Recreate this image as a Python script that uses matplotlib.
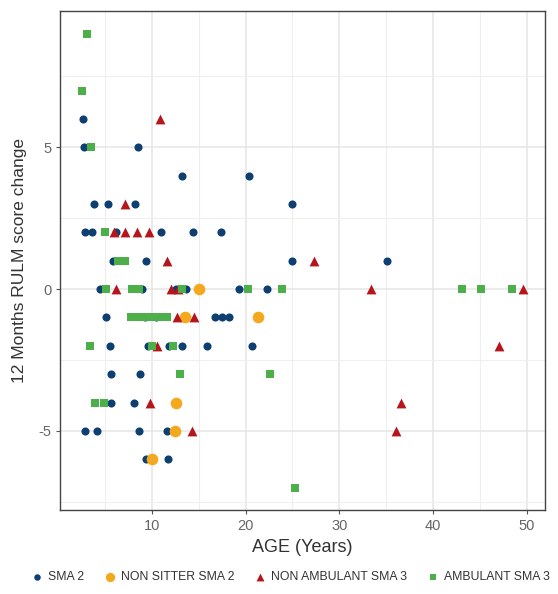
import matplotlib
matplotlib.use("Agg")
import matplotlib.pyplot as plt
from matplotlib.ticker import MultipleLocator

plt.rcParams['font.family'] = ['Liberation Sans', 'DejaVu Sans']
plt.rcParams['axes.unicode_minus'] = False

# SMA 2
sma2_age = [2.7, 2.8, 8.5, 13.2, 20.4,
            3.9, 5.3, 8.2, 25.0,
            2.9, 3.6, 6.2, 11.0, 14.4, 17.4,
            5.85, 9.4, 25.0, 35.1,
            4.5, 9.0, 12.6, 13.7, 19.3, 22.3,
            5.15, 9.3, 10.5, 16.8, 17.5, 18.2,
            5.5, 9.6, 11.8, 13.2, 15.9, 20.7,
            5.7, 8.7,
            5.7, 8.1,
            2.85, 4.2, 8.6, 11.6,
            9.4, 11.7]
sma2_chg = [6, 5, 5, 4, 4,
            3, 3, 3, 3,
            2, 2, 2, 2, 2, 2,
            1, 1, 1, 1,
            0, 0, 0, 0, 0, 0,
            -1, -1, -1, -1, -1, -1,
            -2, -2, -2, -2, -2, -2,
            -3, -3,
            -4, -4,
            -5, -5, -5, -5,
            -6, -6]

# NON SITTER SMA 2
nonsit_age = [15.0, 13.5, 21.3, 12.6, 12.5, 10.0]
nonsit_chg = [0, -1, -1, -4, -5, -6]

# NON AMBULANT SMA 3
nonamb_age = [10.85, 7.2, 6.0, 7.1, 8.45, 9.75, 11.6, 27.3,
              6.2, 12.1, 12.8, 33.4, 49.6, 12.7, 14.5,
              10.6, 47.0, 9.8, 36.6, 14.3, 36.0]
nonamb_chg = [6, 3, 2, 2, 2, 2, 1, 1,
              0, 0, 0, 0, 0, -1, -1,
              -2, -2, -4, -4, -5, -5]

# AMBULANT SMA 3
amb_age = [3.05, 2.6, 3.5, 5.0, 6.4, 7.2,
           5.1, 7.9, 8.6, 13.2, 20.3, 23.9, 43.1, 45.1, 48.4,
           7.8, 8.6, 9.4, 10.0, 10.8, 11.6,
           3.4, 10.0, 12.3, 13.0, 22.6, 4.0, 4.9, 25.3]
amb_chg = [9, 7, 5, 2, 1, 1,
           0, 0, 0, 0, 0, 0, 0, 0, 0,
           -1, -1, -1, -1, -1, -1,
           -2, -2, -2, -3, -3, -4, -4, -7]

fig = plt.figure(figsize=(5.58, 5.94), dpi=100)
ax = fig.add_axes([0.108, 0.141, 0.869, 0.840])

ax.scatter(sma2_age, sma2_chg, s=34, marker='o', color='#0d3f70', lw=0, label='SMA 2', zorder=3)
ax.scatter(nonsit_age, nonsit_chg, s=70, marker='o', color='#f4a81d', lw=0, label='NON SITTER SMA 2', zorder=3)
ax.scatter(nonamb_age, nonamb_chg, s=50, marker='^', color='#b5161b', lw=0, label='NON AMBULANT SMA 3', zorder=3)
ax.scatter(amb_age, amb_chg, s=36, marker='s', color='#4daf4a', lw=0, label='AMBULANT SMA 3', zorder=3)

ax.margins(0.05)
ax.xaxis.set_major_locator(MultipleLocator(10))
ax.xaxis.set_minor_locator(MultipleLocator(5))
ax.yaxis.set_major_locator(MultipleLocator(5))
ax.yaxis.set_minor_locator(MultipleLocator(2.5))
ax.grid(which='major', color='#e6e6e6', lw=1.1, zorder=0)
ax.grid(which='minor', color='#efefef', lw=0.8, zorder=0)
ax.set_axisbelow(True)
ax.tick_params(which='major', colors='#555555', labelsize=10.5, length=3, width=0.8)
ax.tick_params(which='minor', length=0)
ax.tick_params(axis='both', labelcolor='#666666')
for sp in ax.spines.values():
    sp.set_color('#444444')
    sp.set_linewidth(1.0)

ax.set_xlabel('AGE (Years)', fontsize=13, color='#333333', labelpad=4)
ax.set_ylabel('12 Months RULM score change', fontsize=12.5, color='#333333', labelpad=8)

fig.legend(loc='center', bbox_to_anchor=(0.52, 0.028), ncol=4, frameon=False,
           fontsize=8.8, markerscale=0.8, handletextpad=0.4, columnspacing=1.6,
           handlelength=1.0, labelcolor='#333333')

fig.savefig('out.png', dpi=100)
